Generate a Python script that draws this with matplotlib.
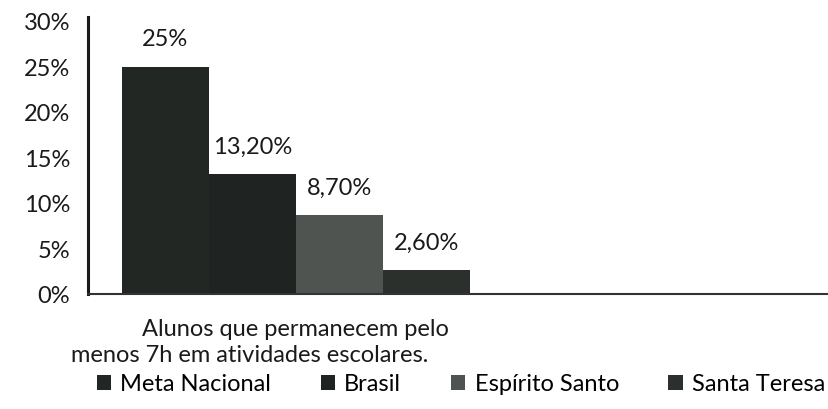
import numpy as np
import matplotlib
matplotlib.use("Agg")
import matplotlib.pyplot as plt
from matplotlib.patches import Patch

series = ["Meta Nacional", "Brasil", "Espírito Santo", "Santa Teresa"]
values = [25.0, 13.2, 8.7, 2.6]
value_labels = ["25%", "13,20%", "8,70%", "2,60%"]
colors = ["#222724", "#1f2422", "#4f5451", "#2b302d"]
yticks = [0, 5, 10, 15, 20, 25, 30]
category_lines = ["Alunos que permanecem pelo", "menos 7h em atividades escolares."]

plt.rcParams['font.family'] = ['Lato', 'DejaVu Sans']

fig = plt.figure(figsize=(8.29, 4.10), dpi=100)
W, H = 829, 410
ax = fig.add_axes([88 / W, 1 - 295 / H, 1 - 88 / W, (295 - 22) / H])

x = np.arange(len(values))
ax.bar(x, values, width=1.0, color=colors, edgecolor="none", zorder=2)
ax.set_xlim(-0.89, 7.63)
ax.set_ylim(0, 30)

for xi, v, lab in zip(x, values, value_labels):
    ax.annotate(lab, (xi, v), xytext=(0, 20), textcoords="offset points",
                ha="center", va="center", fontsize=17, color="#1a1a1a")

ax.set_yticks(yticks)
ax.set_yticklabels([f"{t}%" for t in yticks], fontsize=17, color="#1a1a1a")
ax.tick_params(axis="y", length=0, pad=13)
ax.set_xticks([])
for s in ["top", "right"]:
    ax.spines[s].set_visible(False)
ax.spines["left"].set_linewidth(2.2)
ax.spines["left"].set_color("#1a1a1a")
ax.spines["left"].set_bounds(0, 30.4)
ax.spines["bottom"].set_linewidth(1.5)
ax.spines["bottom"].set_color("#333333")

fig.text(295 / W, 1 - 329 / H, category_lines[0], ha="center", va="center",
         fontsize=17, color="#1a1a1a")
fig.text(250 / W, 1 - 356 / H, category_lines[1], ha="center", va="center",
         fontsize=17, color="#1a1a1a")

handles = [Patch(facecolor=c, edgecolor="none") for c in colors]
fig.legend(handles, series, loc="center", bbox_to_anchor=(461 / W, 1 - 385 / H),
           ncol=4, frameon=False, fontsize=17, handlelength=0.6, handleheight=0.6,
           handletextpad=0.4, columnspacing=2.1, borderpad=0)

fig.savefig("out.png", dpi=100)
